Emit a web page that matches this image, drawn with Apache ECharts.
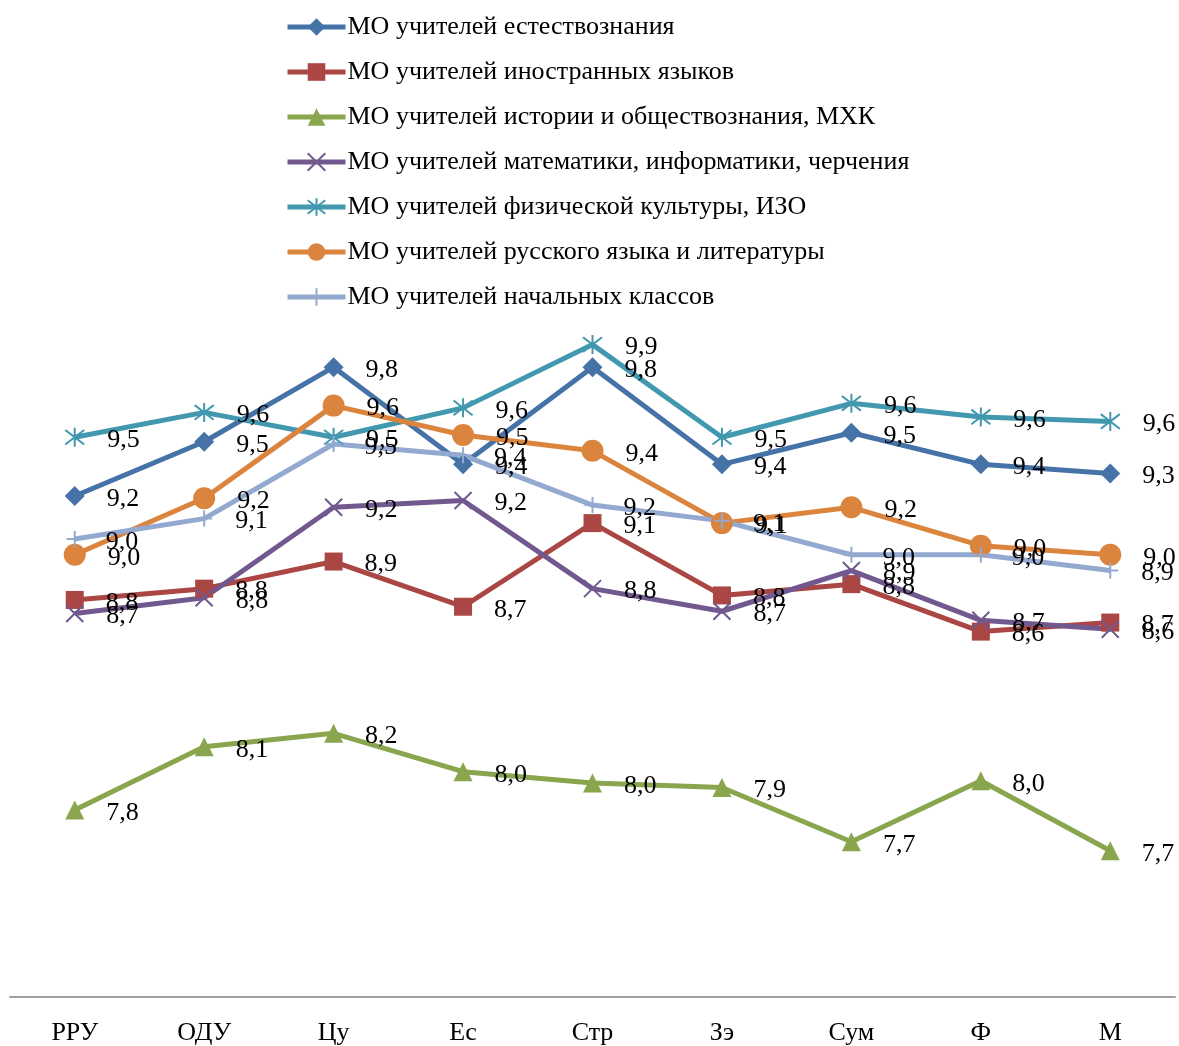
<!DOCTYPE html>
<html>
<head>
<meta charset="utf-8">
<script src="https://cdn.jsdelivr.net/npm/echarts@6/dist/echarts.min.js"></script>
<style>
html,body{margin:0;padding:0;background:#fff;}
#chart{width:1179px;height:1046px;}
</style>
</head>
<body>
<div id="chart"></div>
<script>
const categories = ['РРУ','ОДУ','Цу','Ес','Стр','Зэ','Сум','Ф','М'];
const seriesNames = [
  'МО учителей естествознания',
  'МО учителей иностранных языков',
  'МО учителей истории и обществознания, МХК',
  'МО учителей математики, информатики, черчения',
  'МО учителей физической культуры, ИЗО',
  'МО учителей русского языка и литературы',
  'МО учителей начальных классов'
];
const natural   = [9.23, 9.47, 9.80, 9.37, 9.80, 9.37, 9.51, 9.37, 9.33];
const foreign   = [8.77, 8.82, 8.94, 8.74, 9.11, 8.79, 8.84, 8.63, 8.67];
const history   = [7.84, 8.12, 8.18, 8.01, 7.96, 7.94, 7.70, 7.97, 7.66];
const maths     = [8.71, 8.78, 9.18, 9.21, 8.82, 8.72, 8.90, 8.68, 8.64];
const sport     = [9.49, 9.60, 9.49, 9.62, 9.90, 9.49, 9.64, 9.58, 9.56];
const russian   = [8.97, 9.22, 9.63, 9.50, 9.43, 9.11, 9.18, 9.01, 8.97];
const primary   = [9.04, 9.13, 9.46, 9.41, 9.19, 9.12, 8.97, 8.97, 8.90];

const colors = ['#4572A7','#AA4643','#89A54E','#71588F','#4198AF','#DB843D','#93A9CF'];
const symbols = [
  'diamond', 'rect', 'triangle',
  'path://M0,0L10,10M10,0L0,10',
  'path://M0,0L10,10M10,0L0,10M5,-1.5L5,11.5',
  'circle',
  'path://M5,0L5,10M0,5L10,5'
];
const sizes = [20, 18, 19, 17, 19, 22, 16];
const dataSets = [natural, foreign, history, maths, sport, russian, primary];
const fontFam = '"Liberation Serif","Times New Roman",serif';

const series = dataSets.map((d, i) => ({
  name: seriesNames[i],
  type: 'line',
  data: d,
  symbol: symbols[i],
  symbolSize: sizes[i],
  showAllSymbol: true,
  lineStyle: {color: colors[i], width: 5},
  itemStyle: {color: colors[i], borderColor: colors[i], borderWidth: (i===3||i===4||i===6) ? 2 : 0},
  label: {
    show: true,
    position: 'right',
    distance: 22,
    offset: [0, 3],
    color: '#000',
    fontFamily: fontFam,
    fontSize: 26,
    formatter: p => p.value.toFixed(1).replace('.', ',')
  },
  emphasis: {disabled: true},
  animation: false
}));

const chart = echarts.init(document.getElementById('chart'));
chart.setOption({
  backgroundColor: '#fff',
  animation: false,
  legend: {
    orient: 'vertical',
    left: 280,
    top: 9,
    itemWidth: 58,
    itemHeight: 22,
    itemGap: 19,
    lineStyle: {width: 5},
    textStyle: {fontFamily: fontFam, fontSize: 26, lineHeight: 26, color: '#000', padding: [0,0,0,-3]},
    data: seriesNames
  },
  grid: {left: 10, right: 4, top: 322, bottom: 46, containLabel: false},
  xAxis: {
    type: 'category',
    data: categories,
    boundaryGap: true,
    axisLine: {lineStyle: {color: '#A0A0A0', width: 2}},
    axisTick: {show: false},
    axisLabel: {fontFamily: fontFam, fontSize: 26, color: '#000', margin: 23}
  },
  yAxis: {
    type: 'value',
    min: 7.013,
    max: 10,
    show: false,
    splitLine: {show: false}
  },
  series: series
});
</script>
</body>
</html>
